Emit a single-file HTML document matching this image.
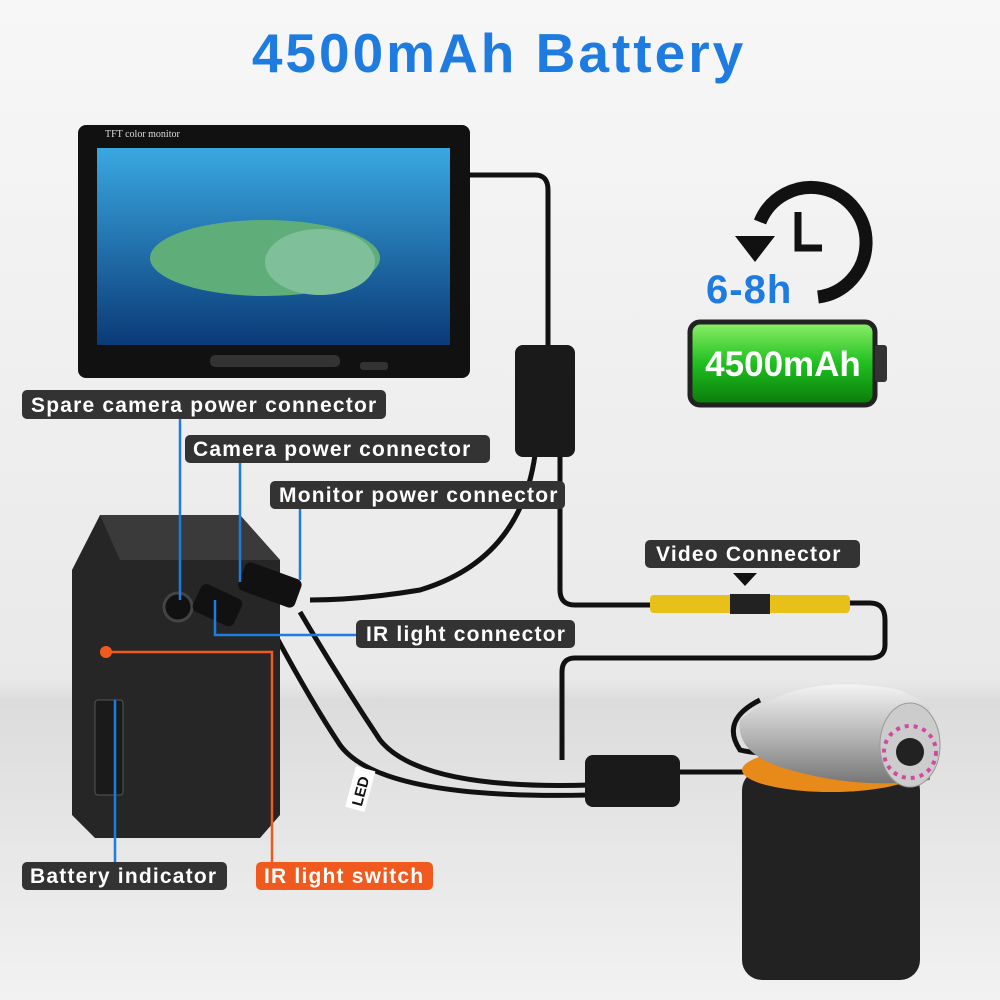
<!DOCTYPE html>
<html><head><meta charset="utf-8"><style>
html,body{margin:0;padding:0;width:1000px;height:1000px;overflow:hidden;background:#f0f0f0}
svg{display:block}
.lbl{font-family:"Liberation Sans",sans-serif;font-weight:bold;fill:#fff;font-size:21px;letter-spacing:1.2px}
</style></head><body>
<svg width="1000" height="1000" viewBox="0 0 1000 1000" xmlns="http://www.w3.org/2000/svg">
<defs>
<linearGradient id="bg" x1="0" y1="0" x2="0" y2="1">
<stop offset="0" stop-color="#f7f7f7"/><stop offset="0.68" stop-color="#e9e9e9"/><stop offset="0.7" stop-color="#dcdcdc"/><stop offset="1" stop-color="#f2f2f2"/></linearGradient>
<linearGradient id="scr" x1="0" y1="0" x2="0" y2="1"><stop offset="0" stop-color="#3aa8e0"/><stop offset="1" stop-color="#0a3a78"/></linearGradient>
<linearGradient id="bat" x1="0" y1="0" x2="0" y2="1"><stop offset="0" stop-color="#8ef06a"/><stop offset="0.5" stop-color="#1fbf1f"/><stop offset="1" stop-color="#0a7a0a"/></linearGradient>
<linearGradient id="cam" x1="0" y1="0" x2="0" y2="1"><stop offset="0" stop-color="#f4f4f4"/><stop offset="0.5" stop-color="#b8b8b8"/><stop offset="1" stop-color="#777"/></linearGradient>
</defs>
<rect width="1000" height="1000" fill="url(#bg)"/>
<text x="499" y="72" text-anchor="middle" font-family="Liberation Sans,sans-serif" font-weight="bold" font-size="55" letter-spacing="3" fill="#1e7be0">4500mAh Battery</text>

<g fill="none" stroke="#111" stroke-width="5">
<path d="M470 175 H535 Q548 175 548 190 V350"/>
<path d="M535 455 Q520 560 420 590 Q360 600 310 600"/>
<path d="M560 455 V590 Q560 605 575 605 H650"/>
<path d="M850 603 H870 Q885 603 885 620 V645 Q885 658 870 658 H575 Q562 658 562 672 V760"/>
<path d="M300 612 Q340 680 380 740 Q420 790 590 785"/>
<path d="M270 625 Q310 700 340 745 Q380 800 590 795"/>
<path d="M680 772 H760"/>
<path d="M760 700 Q720 720 740 750 Q760 755 790 752"/>
</g>
<rect x="515" y="345" width="60" height="112" rx="8" fill="#1a1a1a"/>
<rect x="585" y="755" width="95" height="52" rx="8" fill="#1a1a1a"/>

<rect x="78" y="125" width="392" height="253" rx="8" fill="#111"/>
<rect x="97" y="148" width="353" height="197" fill="url(#scr)"/>
<ellipse cx="265" cy="258" rx="115" ry="38" fill="#5fae7a"/>
<ellipse cx="320" cy="262" rx="55" ry="33" fill="#7fbf9a"/>
<text x="105" y="137" font-family="Liberation Serif,serif" font-size="10" fill="#ddd">TFT color monitor</text>
<rect x="210" y="355" width="130" height="12" rx="5" fill="#333"/>
<rect x="360" y="362" width="28" height="8" rx="3" fill="#333"/>

<path d="M760 222 A55 55 0 1 1 818 297" fill="none" stroke="#111" stroke-width="13"/>
<polygon points="735,236 775,236 755,262" fill="#111"/>
<path d="M798 212 V248 H822" fill="none" stroke="#111" stroke-width="7"/>
<text x="706" y="303" font-family="Liberation Sans,sans-serif" font-weight="bold" font-size="40" letter-spacing="1" fill="#1e7be0">6-8h</text>

<rect x="690" y="322" width="185" height="83" rx="10" fill="url(#bat)" stroke="#222" stroke-width="5"/>
<rect x="875" y="345" width="12" height="37" rx="3" fill="#333"/>
<text x="783" y="376" text-anchor="middle" font-family="Liberation Sans,sans-serif" font-weight="bold" font-size="35" fill="#fff">4500mAh</text>

<path d="M72 570 L100 515 H240 L280 560 V815 L260 838 H95 L72 815 Z" fill="#262626"/>
<path d="M100 515 H240 L280 560 H120 Z" fill="#3a3a3a"/>
<circle cx="178" cy="607" r="14" fill="#111" stroke="#444" stroke-width="3"/>
<rect x="195" y="590" width="45" height="30" rx="6" fill="#111" transform="rotate(25 217 605)"/>
<rect x="240" y="570" width="60" height="30" rx="6" fill="#111" transform="rotate(20 270 585)"/>
<circle cx="106" cy="652" r="6" fill="#f05a1e"/>
<rect x="95" y="700" width="28" height="95" rx="3" fill="#1a1a1a" stroke="#555"/>

<rect x="742" y="770" width="178" height="210" rx="20" fill="#222"/>
<ellipse cx="831" cy="770" rx="89" ry="22" fill="#e88a1a"/>
<path d="M740 720 Q800 670 900 690 L930 705 V780 Q860 790 790 770 Q735 755 740 720Z" fill="url(#cam)"/>
<ellipse cx="910" cy="745" rx="30" ry="42" fill="#ccc" stroke="#999"/>
<circle cx="910" cy="752" r="14" fill="#222"/>
<circle cx="910" cy="752" r="26" fill="none" stroke="#d04aa0" stroke-width="4" stroke-dasharray="4 5"/>

<g stroke="#1e7be0" stroke-width="2.5" fill="none">
<path d="M180 418 V600"/><path d="M240 462 V582"/><path d="M300 508 V580"/>
<path d="M215 600 V635 H356"/><path d="M115 700 V862"/>
</g>
<path d="M106 652 H272 V862" stroke="#f05a1e" stroke-width="2.5" fill="none"/>
<polygon points="733,573 757,573 745,586" fill="#111"/>

<g>
<rect x="22" y="390" width="364" height="29" rx="5" fill="#333"/><text class="lbl" x="31" y="412">Spare camera power connector</text>
<rect x="185" y="435" width="305" height="28" rx="5" fill="#333"/><text class="lbl" x="193" y="456">Camera power connector</text>
<rect x="270" y="481" width="295" height="28" rx="5" fill="#333"/><text class="lbl" x="279" y="502">Monitor power connector</text>
<rect x="645" y="540" width="215" height="28" rx="5" fill="#333"/><text class="lbl" x="656" y="561">Video Connector</text>
<rect x="356" y="620" width="219" height="28" rx="5" fill="#333"/><text class="lbl" x="366" y="641">IR light connector</text>
<rect x="22" y="862" width="205" height="28" rx="5" fill="#333"/><text class="lbl" x="30" y="883">Battery indicator</text>
<rect x="256" y="862" width="177" height="28" rx="5" fill="#f05a1e"/><text class="lbl" x="264" y="883">IR light switch</text>
</g>
<g transform="translate(360 790) rotate(-75)"><rect x="-20" y="-10" width="42" height="20" fill="#fff"/><text x="-16" y="6" font-family="Liberation Sans,sans-serif" font-size="15" font-weight="bold" fill="#111">LED</text></g>
<rect x="650" y="595" width="200" height="18" rx="4" fill="#e8c01a"/>
<rect x="730" y="594" width="40" height="20" fill="#222"/>
</svg>
</body></html>
